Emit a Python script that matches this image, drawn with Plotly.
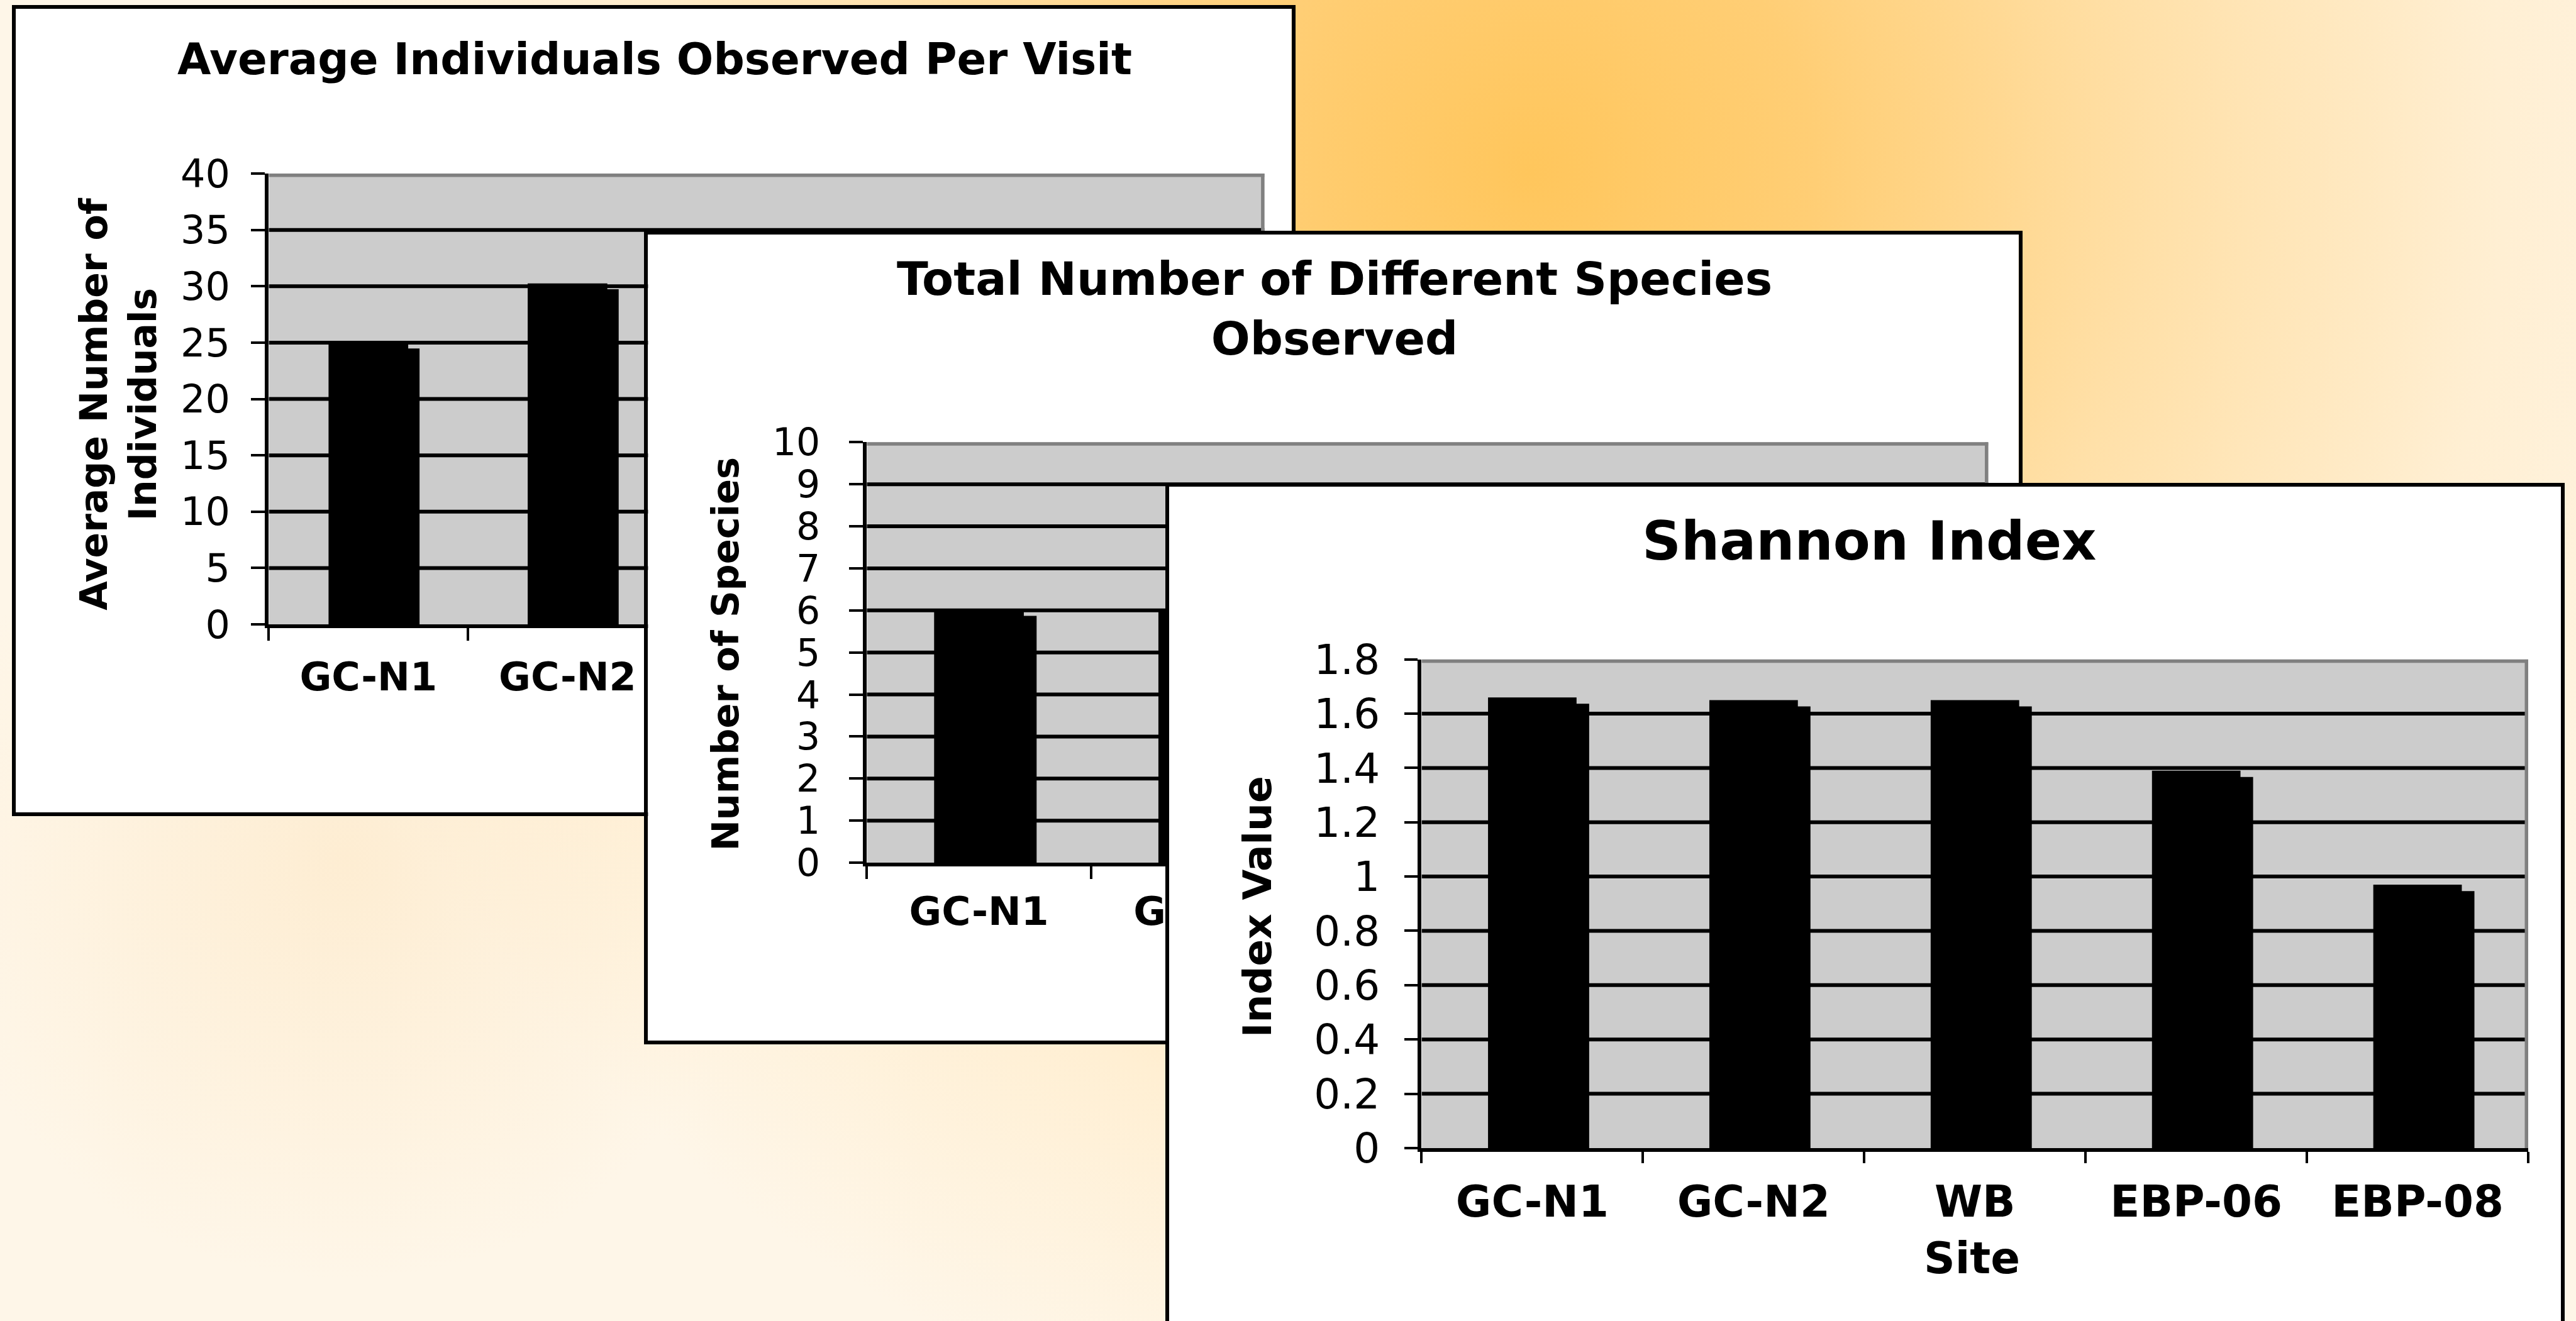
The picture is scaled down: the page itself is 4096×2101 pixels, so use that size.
import base64
import plotly.graph_objects as go

# ---------------- data ----------------
sites = ["GC-N1", "GC-N2", "WB", "EBP-06", "EBP-08"]

# Panel 1 - average individuals observed per visit
# (WB, EBP-06, EBP-08 are hidden under panel 2 in the source picture)
avg_individuals = [25.0, 30.25, None, None, None]
ind_ticks = [0, 5, 10, 15, 20, 25, 30, 35, 40]
ind_site_labels = ["GC-N1", "GC-N2", "", "", ""]          # others covered by panel 2

# Panel 2 - total number of different species observed
# (only GC-N1 / GC-N2 are visible, the rest is hidden under panel 3)
species_count = [6, 6, None, None, None]
species_ticks = [0, 1, 2, 3, 4, 5, 6, 7, 8, 9, 10]
species_site_labels = ["GC-N1", "GC-N2", "", "", ""]      # others covered by panel 3

# Panel 3 - Shannon index
shannon_index = [1.66, 1.65, 1.65, 1.39, 0.97]
shannon_ticks = [0, 0.2, 0.4, 0.6, 0.8, 1.0, 1.2, 1.4, 1.6, 1.8]
shannon_ticklabels = ["0", "0.2", "0.4", "0.6", "0.8", "1", "1.2", "1.4", "1.6", "1.8"]
shannon_site_labels = sites

panel_titles = ["Average Individuals Observed Per Visit",
                "Total Number of Different Species<br>Observed",
                "Shannon Index"]
y_titles = ["Average Number of<br>Individuals", "Number of Species", "Index Value"]
x_title_last = "Site"

# ---------------- geometry (reference pixel space) ----------------
W, H = 4096, 2101
REF_W, REF_H = 6737.0, 3456.0
S = W / REF_W
FONT = "DejaVu Sans"


def fx(x):
    return x / REF_W


def fy(y):
    return 1 - y / REF_H


BOX_LW = 6  # output px
half = (BOX_LW / 2) / S

panels = [
    dict(box=(37, 18, 3383, 2131), plot=(698, 459, 3302, 1638.5),
         values=avg_individuals, ticks=ind_ticks, ticktext=[str(t) for t in ind_ticks],
         xlabels=ind_site_labels,
         title_pos=(1712, 155), title_size=69,
         ytitle_pos=(309, 1056), ytitle_size=60,
         ytick_size=62, xtick_size=62, ystandoff=21, xstandoff=25,
         ticklen_y=22, ticklen_x=20, bottom_open=False),
    dict(box=(1690, 608, 5284, 2727), plot=(2262, 1162, 5195, 2262),
         values=species_count, ticks=species_ticks, ticktext=[str(t) for t in species_ticks],
         xlabels=species_site_labels,
         title_pos=(3490, 808), title_size=73,
         ytitle_pos=(1898, 1710), ytitle_size=59,
         ytick_size=60, xtick_size=63, ystandoff=34, xstandoff=17,
         ticklen_y=22, ticklen_x=20, bottom_open=False),
    dict(box=(3052, 1268, 6703, 3456), plot=(3713, 1730, 6607, 3008.5),
         values=shannon_index, ticks=shannon_ticks, ticktext=shannon_ticklabels,
         xlabels=shannon_site_labels,
         title_pos=(4889, 1414), title_size=86,
         ytitle_pos=(3288, 2372), ytitle_size=63,
         ytick_size=66, xtick_size=69, ystandoff=26, xstandoff=20,
         ticklen_y=21, ticklen_x=18, bottom_open=True),
]

BAR_W = 0.40
SHADOW_DX = 0.057
SHADOW_DROP = 0.013  # fraction of axis range

# ---------------- background gradient ----------------
svg = (
    "<svg xmlns='http://www.w3.org/2000/svg' width='6737' height='3456' "
    "viewBox='0 0 6737 3456' preserveAspectRatio='none'>"
    "<defs>"
    "<radialGradient id='g1' gradientUnits='userSpaceOnUse' cx='4000' cy='450' r='3400'>"
    "<stop offset='0' stop-color='#FFC65C'/>"
    "<stop offset='0.22' stop-color='#FFCE75'/>"
    "<stop offset='0.48' stop-color='#FFE0A8'/>"
    "<stop offset='0.75' stop-color='#FFEFD3'/>"
    "<stop offset='1' stop-color='#FEF6E8'/>"
    "</radialGradient>"
    "<radialGradient id='g2' gradientUnits='userSpaceOnUse' cx='900' cy='2250' r='1100'>"
    "<stop offset='0' stop-color='#FDE2B8' stop-opacity='0.45'/>"
    "<stop offset='1' stop-color='#FDE2B8' stop-opacity='0'/>"
    "</radialGradient>"
    "</defs>"
    "<rect width='6737' height='3456' fill='#FEF6E8'/>"
    "<rect width='6737' height='3456' fill='url(#g1)'/>"
    "<rect width='6737' height='3456' fill='url(#g2)'/>"
    "</svg>"
)
bg_uri = "data:image/svg+xml;base64," + base64.b64encode(svg.encode()).decode()

fig = go.Figure()
layout = dict(
    template="none",
    width=W, height=H, margin=dict(l=0, r=0, t=0, b=0, pad=0, autoexpand=False),
    paper_bgcolor="#FEF6E8", plot_bgcolor="white",
    showlegend=False, barmode="overlay",
    font=dict(family=FONT, color="black"),
    images=[dict(source=bg_uri, xref="paper", yref="paper", x=0, y=1,
                 sizex=1, sizey=1, sizing="stretch", xanchor="left",
                 yanchor="top", layer="below")],
)
shapes = []
annotations = []

for i, p in enumerate(panels):
    nb = 2 * i + 1          # box subplot id
    nc = 2 * i + 2          # chart subplot id
    xb = "x" if nb == 1 else f"x{nb}"
    yb = "y" if nb == 1 else f"y{nb}"
    xc, yc = f"x{nc}", f"y{nc}"
    xbk = "xaxis" if nb == 1 else f"xaxis{nb}"
    ybk = "yaxis" if nb == 1 else f"yaxis{nb}"
    xck, yck = f"xaxis{nc}", f"yaxis{nc}"

    # ---- white panel box ----
    L, T, R, B = p["box"]
    bx = [fx(L + half), fx(R - half)]
    by = [0.0 if p["bottom_open"] else fy(B - half), fy(T + half)]
    common_box = dict(range=[0, 1], showgrid=False, zeroline=False, automargin=False,
                      showticklabels=False, ticks="", fixedrange=True,
                      showline=True, linecolor="black", linewidth=BOX_LW)
    if p["bottom_open"]:
        layout[xbk] = dict(domain=bx, anchor=yb, side="top", mirror=False, **common_box)
    else:
        layout[xbk] = dict(domain=bx, anchor=yb, mirror=True, **common_box)
    layout[ybk] = dict(domain=by, anchor=xb, mirror=True, **common_box)
    fig.add_trace(go.Scatter(x=[], y=[], xaxis=xb, yaxis=yb, hoverinfo="skip"))
    shapes.append(dict(type="rect", xref=xb, yref=yb, x0=0, x1=1, y0=0, y1=1,
                       fillcolor="white", line=dict(width=0), layer="below"))

    # ---- chart area ----
    pl, pt, pr, pb = p["plot"]
    ticks = p["ticks"]
    ymin, ymax = ticks[0], ticks[-1]
    xlo, xhi = -0.5, len(sites) - 0.5
    layout[xck] = dict(
        domain=[fx(pl + 5), fx(pr + 5)], anchor=yc, type="category",
        categoryorder="array", categoryarray=sites, range=[xlo, xhi],
        tickmode="array", tickvals=sites, ticktext=p["xlabels"],
        showline=True, linecolor="black", linewidth=6, mirror=False,
        ticks="outside", tickson="boundaries", ticklen=p["ticklen_x"],
        tickwidth=4, tickcolor="black", automargin=False,
        tickfont=dict(family=FONT, size=p["xtick_size"], color="black", weight="bold"),
        ticklabelstandoff=p["xstandoff"],
        showgrid=False, zeroline=False, fixedrange=True)
    layout[yck] = dict(
        domain=[fy(pb - 5), fy(pt - 5)], anchor=xc, range=[ymin, ymax],
        tickmode="array", tickvals=ticks, ticktext=p["ticktext"],
        showline=True, linecolor="black", linewidth=6, mirror=False,
        ticks="outside", ticklen=p["ticklen_y"], tickwidth=4, tickcolor="black",
        tickfont=dict(family=FONT, size=p["ytick_size"], color="black"),
        ticklabelstandoff=p["ystandoff"], automargin=False,
        showgrid=False, zeroline=False, fixedrange=True)

    shapes.append(dict(type="rect", xref=xc, yref=yc, x0=xlo, x1=xhi, y0=ymin, y1=ymax,
                       fillcolor="#CCCCCC", line=dict(width=0), layer="below"))
    for t in ticks[1:-1]:
        shapes.append(dict(type="line", xref=xc, yref=yc, x0=xlo, x1=xhi, y0=t, y1=t,
                           line=dict(color="black", width=6), layer="below"))
    shapes.append(dict(type="line", xref=xc, yref=yc, x0=xlo, x1=xhi, y0=ymax, y1=ymax,
                       line=dict(color="#808080", width=11), layer="below"))
    shapes.append(dict(type="line", xref=xc, yref=yc, x0=xhi, x1=xhi, y0=ymin, y1=ymax,
                       line=dict(color="#808080", width=11), layer="below"))

    vals = p["values"]
    drop = SHADOW_DROP * (ymax - ymin)
    shadow = [None if v is None else v - drop for v in vals]
    fig.add_trace(go.Bar(x=sites, y=shadow, xaxis=xc, yaxis=yc,
                         offset=-BAR_W / 2 + SHADOW_DX, width=BAR_W,
                         marker=dict(color="black", line=dict(width=0)),
                         hoverinfo="skip"))
    fig.add_trace(go.Bar(x=sites, y=vals, xaxis=xc, yaxis=yc,
                         offset=-BAR_W / 2, width=BAR_W,
                         marker=dict(color="black", line=dict(width=0)),
                         hoverinfo="skip"))

    # ---- texts ----
    tx, ty = p["title_pos"]
    annotations.append(dict(text=panel_titles[i], x=fx(tx), y=fy(ty), xref="paper",
                            yref="paper", showarrow=False, xanchor="center",
                            yanchor="middle",
                            font=dict(family=FONT, size=p["title_size"], color="black",
                                      weight="bold")))
    ax_, ay_ = p["ytitle_pos"]
    annotations.append(dict(text=y_titles[i], x=fx(ax_), y=fy(ay_), xref="paper",
                            yref="paper", showarrow=False, xanchor="center",
                            yanchor="middle", textangle=-90,
                            font=dict(family=FONT, size=p["ytitle_size"], color="black",
                                      weight="bold")))

annotations.append(dict(text=x_title_last, x=fx(5157), y=fy(3292), xref="paper",
                        yref="paper", showarrow=False, xanchor="center", yanchor="middle",
                        font=dict(family=FONT, size=69, color="black", weight="bold")))

layout["shapes"] = shapes
layout["annotations"] = annotations
fig.update_layout(**layout)
fig.write_html("out.html",
               config={"displayModeBar": False, "staticPlot": True},
               post_script="document.body.style.margin='0';"
                           "document.body.style.overflow='hidden';")
